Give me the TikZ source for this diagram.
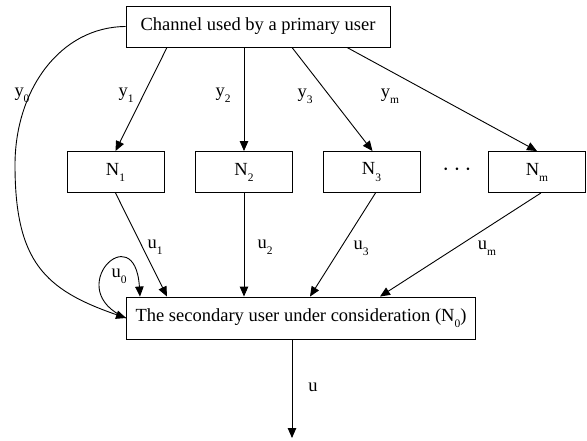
\documentclass[tikz,border=0pt]{standalone}
\usepackage{fontspec}
\setmainfont{Liberation Serif}
\usetikzlibrary{arrows.meta}
\newcommand{\lowsub}[1]{\raisebox{-0.33em}{\fontsize{11.5}{12}\selectfont #1}}
\begin{document}
\begin{tikzpicture}[x=1pt,y=-1pt,
  box/.style={draw, line width=0.9pt, inner sep=0pt, align=center, font=\fontsize{18.5}{22}\selectfont},
  lab/.style={inner sep=0pt, font=\fontsize{18.5}{22}\selectfont},
  arr/.style={-{Triangle[length=10pt,width=8.5pt]}, line width=0.9pt}]
\useasboundingbox (0,0) rectangle (587,441);
\node[box, minimum width=264pt, minimum height=41pt] (top) at (258,26.5) {Channel used by a primary user};
\node[box, minimum width=97pt, minimum height=41pt] (N1) at (115.5,172) {N\lowsub{1}};
\node[box, minimum width=97pt, minimum height=41pt] (N2) at (244,172) {N\lowsub{2}};
\node[box, minimum width=97pt, minimum height=41pt] (N3) at (371.5,172) {N\lowsub{3}};
\node[box, minimum width=97pt, minimum height=41pt] (Nm) at (537,172) {N\lowsub{m}};
\node[lab] (dots) at (457,170) {\fontsize{24}{24}\selectfont$\cdots$};
\node[box, minimum width=349pt, minimum height=42pt] (bottom) at (301,318) {The secondary user under consideration (N\lowsub{0})};
\coordinate (out) at (292,438);

\draw[arr] (top.west) .. controls (60,27) and (15,90) .. (15,165) .. controls (15,262) and (45,290) .. (bottom.west);
\draw[arr] ([xshift=-91pt]top.south) -- (N1.north);
\draw[arr] ([xshift=-14pt]top.south) -- (N2.north);
\draw[arr] ([xshift=34pt]top.south) -- ([xshift=1pt]N3.north);
\draw[arr] ([xshift=89pt]top.south) -- (Nm.north);

\draw[arr] (N1.south) -- ([xshift=-134pt]bottom.north);
\draw[arr] (N2.south) -- ([xshift=-57pt]bottom.north);
\draw[arr] ([xshift=4pt]N3.south) -- ([xshift=9pt]bottom.north);
\draw[arr] ([xshift=4pt]Nm.south) -- ([xshift=79pt]bottom.north);
\draw[arr] (bottom.west) .. controls (60,290) and (135,215) .. ([xshift=-161pt]bottom.north);
\draw[arr] ([xshift=-9pt]bottom.south) -- (out);

\node[lab] (ly0) at (22,95) {y\lowsub{0}};
\node[lab] (ly1) at (126,95) {y\lowsub{1}};
\node[lab] (ly2) at (223,95) {y\lowsub{2}};
\node[lab] (ly3) at (305,96) {y\lowsub{3}};
\node[lab] (lym) at (390,96) {y\lowsub{m}};
\node[lab] (lu0) at (119,276) {u\lowsub{0}};
\node[lab] (lu1) at (155,247) {u\lowsub{1}};
\node[lab] (lu2) at (265,247) {u\lowsub{2}};
\node[lab] (lu3) at (361,248) {u\lowsub{3}};
\node[lab] (lum) at (487,248) {u\lowsub{m}};
\node[lab] (lu) at (313,387) {u};
\end{tikzpicture}
\end{document}
